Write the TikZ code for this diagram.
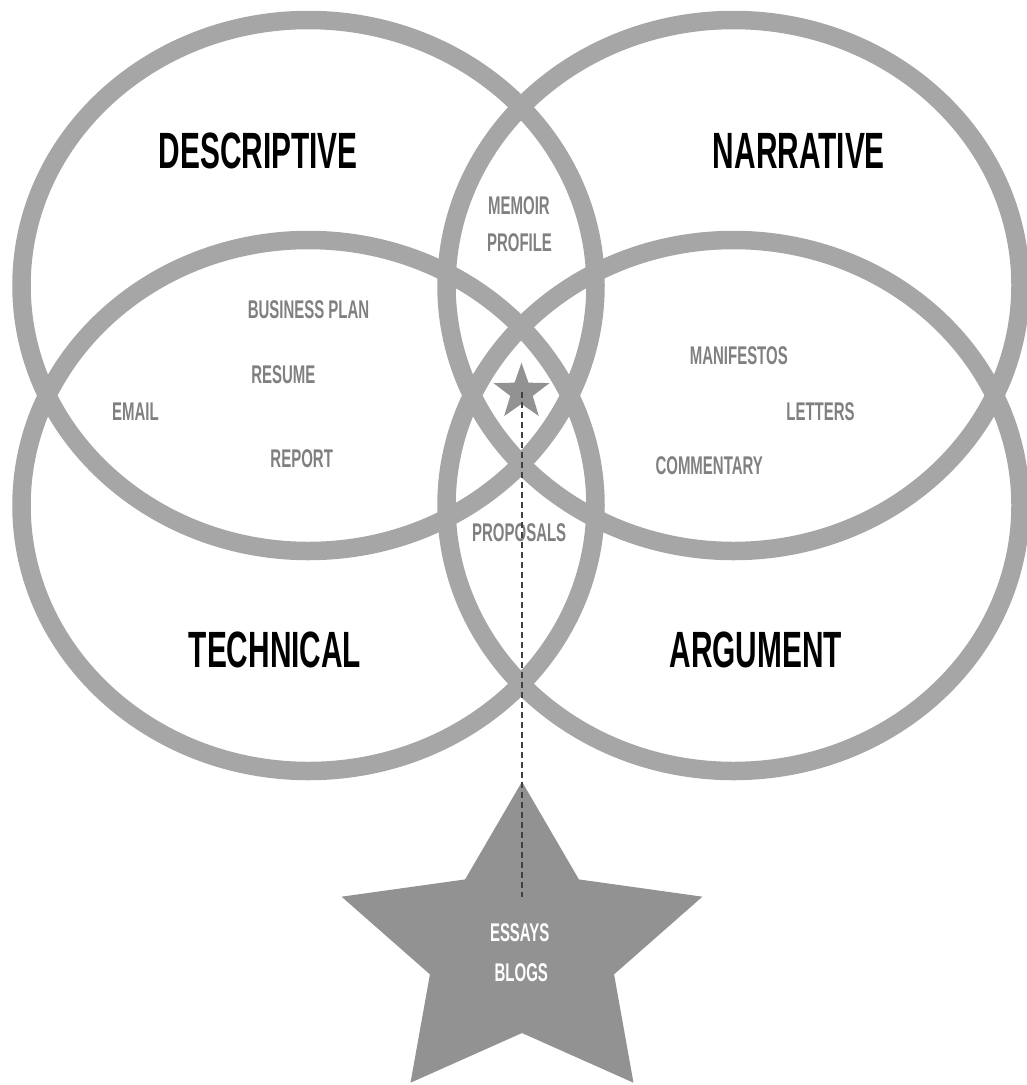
\documentclass[tikz,border=0pt]{standalone}
\usepackage{fontspec}
\newfontfamily\condfont{Liberation Sans}[FakeStretch=0.585]
\usetikzlibrary{shapes.geometric}
\definecolor{ringgray}{HTML}{A6A6A6}
\definecolor{textgray}{HTML}{808080}
\definecolor{stargray}{HTML}{929292}
\definecolor{dashgray}{HTML}{404040}
\begin{document}
\begin{tikzpicture}[x=1pt, y=-1pt,
    ring/.style={draw=ringgray, line width=18.5pt},
    biglabel/.style={font=\condfont\bfseries\fontsize{51}{51}\selectfont, text=black, inner sep=0pt, anchor=base},
    smalllabel/.style={font=\condfont\bfseries\fontsize{25.6}{25.6}\selectfont, text=textgray, inner sep=0pt, anchor=base},
    starlabel/.style={smalllabel, text=white},
    starshape/.style={star, star points=5, fill=stargray, draw=none, inner sep=0pt}]
    \useasboundingbox (0,0) rectangle (1027,1085);

    % the four rings
    \draw[ring] (308.5,285.5) ellipse [x radius=287pt, y radius=265.5pt];
    \draw[ring] (733.5,285.5) ellipse [x radius=287pt, y radius=265.5pt];
    \draw[ring] (308.5,505.5) ellipse [x radius=287pt, y radius=265.5pt];
    \draw[ring] (733.5,505.5) ellipse [x radius=287pt, y radius=265.5pt];

    \node[biglabel] (descriptive) at (258.3,168.3) {DESCRIPTIVE};
    \node[biglabel] (narrative) at (798.9,168.3) {NARRATIVE};
    \node[biglabel] (technical) at (275,667.3) {TECHNICAL};
    \node[biglabel] (argument) at (755.8,667.3) {ARGUMENT};

    \node[smalllabel] (memoir) at (519,214) {MEMOIR};
    \node[smalllabel] (profile) at (519.5,251) {PROFILE};
    \node[smalllabel] (businessplan) at (308.5,318.3) {BUSINESS PLAN};
    \node[smalllabel] (resume) at (283.3,383.3) {RESUME};
    \node[smalllabel] (email) at (135.5,420) {EMAIL};
    \node[smalllabel] (report) at (301.7,467.3) {REPORT};
    \node[smalllabel] (manifestos) at (738.8,364) {MANIFESTOS};
    \node[smalllabel] (letters) at (820.5,420) {LETTERS};
    \node[smalllabel] (commentary) at (709.2,474) {COMMENTARY};
    \node[smalllabel] (proposals) at (519.2,541.7) {PROPOSALS};

    % stars
    \node[starshape, star point ratio=2.5, minimum size=59pt] (smallstar) at (521.5,392.2) {};
    \node[starshape, star point ratio=1.96, minimum size=332.8pt, xscale=1.14] (bigstar) at (522,948.1) {};
    \coordinate (dashend) at (521.5,897);
    \draw[dashgray, line width=2pt, dash pattern=on 5.5pt off 4.5pt] (smallstar.center) -- (dashend);

    \node[starlabel] (essays) at (519.7,941) {ESSAYS};
    \node[starlabel] (blogs) at (521.3,981.7) {BLOGS};
\end{tikzpicture}
\end{document}
